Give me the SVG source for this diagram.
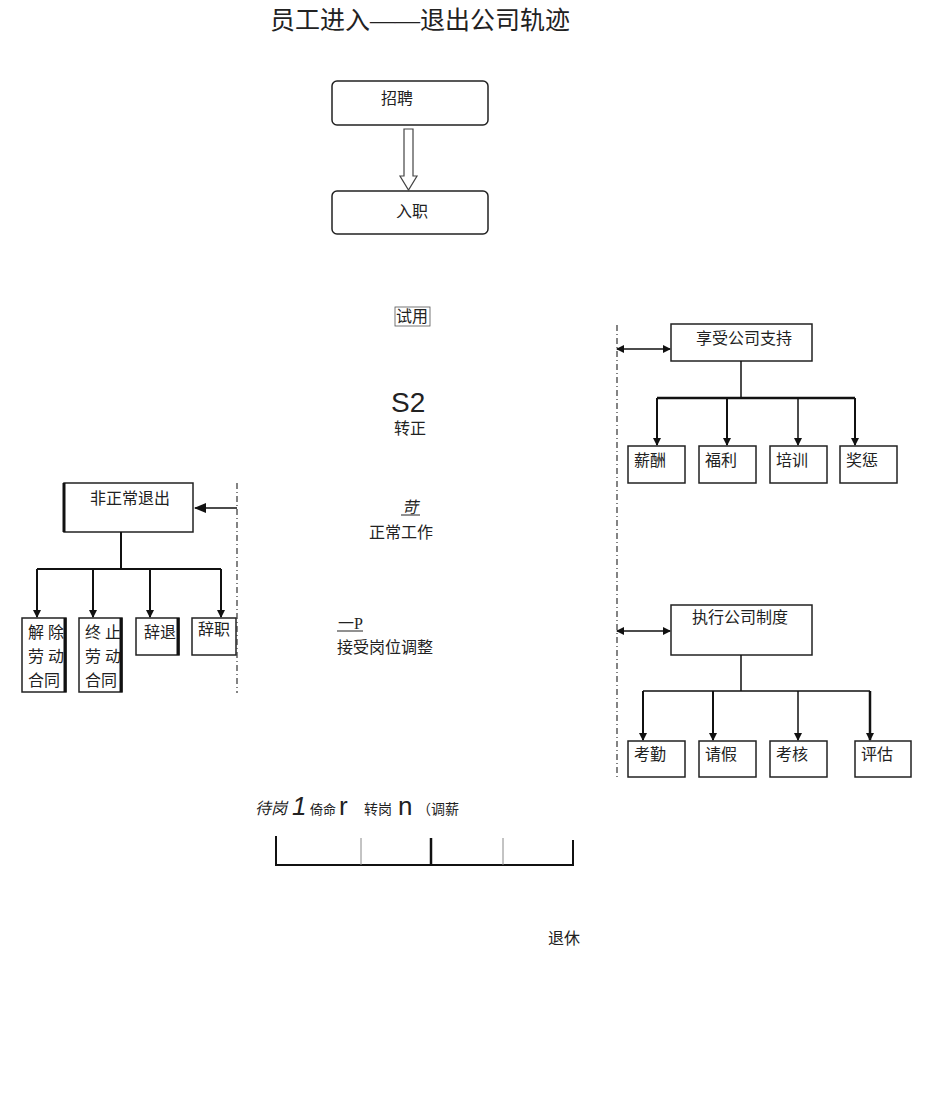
<svg xmlns="http://www.w3.org/2000/svg" width="950" height="1102" viewBox="0 0 950 1102">
<style>
text{font-family:"Liberation Serif","Noto Sans CJK SC",serif;fill:#222;font-size:16px}
.s{font-family:"Liberation Sans","Noto Sans CJK SC",sans-serif}
.box{fill:#fff;stroke:#222;stroke-width:1.5}
.ln{stroke:#111;stroke-width:2;fill:none}
.dash{stroke:#333;stroke-width:1.2;stroke-dasharray:6 3 1 3;fill:none}
</style>
<defs>
<marker id="ah" markerWidth="8" markerHeight="8" refX="7" refY="4" orient="auto-start-reverse" markerUnits="userSpaceOnUse"><path d="M0,0 L8,4 L0,8 Z" fill="#111"/></marker>
<marker id="ahl" markerWidth="12" markerHeight="10" refX="11" refY="5" orient="auto-start-reverse" markerUnits="userSpaceOnUse"><path d="M0,0 L12,5 L0,10 Z" fill="#111"/></marker>
</defs>
<text x="270" y="29" style="font-size:25px">员工进入——退出公司轨迹</text>

<g id="n-zhaopin"><rect class="box" x="332" y="81" width="156" height="44" rx="5"/><text x="381" y="104" class="s">招聘</text></g>
<g id="n-ruzhi"><rect class="box" x="332" y="191" width="156" height="43" rx="5"/><text x="396" y="217" class="s">入职</text></g>
<g id="n-shiyong"><rect x="395" y="307" width="35" height="19" fill="none" stroke="#555" stroke-width="0.8"/><text x="396" y="322">试用</text></g>
<g id="n-zhuanzheng"><text x="391" y="412" class="s" style="font-size:28px">S2</text><text x="394" y="434">转正</text></g>
<g id="n-zhengchang"><text x="402" y="513" style="font-style:italic">苛</text><line x1="401" y1="515" x2="420" y2="515" stroke="#222"/><text x="369" y="538">正常工作</text></g>
<g id="n-tiaozheng"><text x="338" y="629">一P</text><line x1="337" y1="631" x2="363" y2="631" stroke="#222"/><text x="337" y="653">接受岗位调整</text></g>

<g id="n-feizhengchang"><rect class="box" x="64" y="483" width="129" height="49"/><line x1="64" y1="483" x2="64" y2="532" stroke="#111" stroke-width="3"/><text x="90" y="504">非正常退出</text></g>
<g id="n-jiechu"><rect class="box" x="22" y="618" width="44" height="74"/><line x1="65" y1="618" x2="65" y2="692" stroke="#111" stroke-width="3"/><text x="28" y="638">解 除</text><text x="28" y="662">劳 动</text><text x="28" y="686">合同</text></g>
<g id="n-zhongzhi"><rect class="box" x="79" y="618" width="43" height="74"/><line x1="121" y1="618" x2="121" y2="692" stroke="#111" stroke-width="3"/><text x="85" y="638">终 止</text><text x="85" y="662">劳 动</text><text x="85" y="686">合同</text></g>
<g id="n-citui"><rect class="box" x="136" y="618" width="43" height="37"/><line x1="178" y1="618" x2="178" y2="655" stroke="#111" stroke-width="3"/><text x="144" y="638">辞退</text></g>
<g id="n-cizhi"><rect class="box" x="192" y="618" width="44" height="37"/><text x="198" y="635">辞职</text></g>

<g id="n-xiangshou"><rect class="box" x="671" y="324" width="141" height="37"/><text x="696" y="344">享受公司支持</text></g>
<g id="n-xinchou"><rect class="box" x="628" y="446" width="57" height="37"/><text x="634" y="466">薪酬</text></g>
<g id="n-fuli"><rect class="box" x="699" y="446" width="57" height="37"/><text x="705" y="466">福利</text></g>
<g id="n-peixun"><rect class="box" x="770" y="446" width="57" height="37"/><text x="776" y="466">培训</text></g>
<g id="n-jiangcheng"><rect class="box" x="840" y="446" width="57" height="37"/><text x="846" y="466">奖惩</text></g>

<g id="n-zhixing"><rect class="box" x="671" y="605" width="141" height="50"/><text x="692" y="623">执行公司制度</text></g>
<g id="n-kaoqin"><rect class="box" x="628" y="741" width="57" height="36"/><text x="634" y="760">考勤</text></g>
<g id="n-qingjia"><rect class="box" x="699" y="741" width="57" height="36"/><text x="705" y="760">请假</text></g>
<g id="n-kaohe"><rect class="box" x="770" y="741" width="57" height="36"/><text x="776" y="760">考核</text></g>
<g id="n-pinggu"><rect class="box" x="855" y="741" width="56" height="36"/><text x="861" y="760">评估</text></g>

<g id="n-daigang"><text x="255" y="814" style="font-style:italic">待岗</text><text x="292" y="815" class="s" style="font-size:26px;font-style:italic">1</text><text x="310" y="814" style="font-size:13px">倚命</text><text x="339" y="815" class="s" style="font-size:26px">r</text><text x="364" y="814" style="font-size:14px">转岗</text><text x="398" y="815" class="s" style="font-size:26px">n</text><text x="417" y="814" style="font-size:14px">（调薪</text></g>
<g id="n-tuixiu"><text x="548" y="944">退休</text></g>

<g id="connectors">
<path d="M404,129 H413 V176 H417 L408.5,190 L400,176 H404 Z" fill="#fff" stroke="#444" stroke-width="1.2"/>
<line class="dash" x1="237" y1="483" x2="237" y2="693"/>
<line x1="237" y1="508" x2="195" y2="508" stroke="#111" stroke-width="1.5" marker-end="url(#ahl)"/>
<path class="ln" d="M121,532 V569 M37,569 H221"/>
<line class="ln" x1="37" y1="569" x2="37" y2="617" marker-end="url(#ah)"/>
<line class="ln" x1="93" y1="569" x2="93" y2="617" marker-end="url(#ah)"/>
<line class="ln" x1="150" y1="569" x2="150" y2="617" marker-end="url(#ah)"/>
<line class="ln" x1="221" y1="569" x2="221" y2="617" marker-end="url(#ah)"/>

<line class="dash" x1="617" y1="325" x2="617" y2="778"/>
<line x1="617" y1="349" x2="670" y2="349" stroke="#111" stroke-width="1.5" marker-start="url(#ah)" marker-end="url(#ah)"/>
<path d="M741,361 V398" stroke="#111" stroke-width="1.5" fill="none"/>
<path d="M657,398 H855" stroke="#111" stroke-width="2.5" fill="none"/>
<line class="ln" x1="657" y1="398" x2="657" y2="445" marker-end="url(#ah)"/>
<line class="ln" x1="727" y1="398" x2="727" y2="445" marker-end="url(#ah)"/>
<line x1="798" y1="398" x2="798" y2="445" stroke="#111" stroke-width="1.5" marker-end="url(#ah)"/>
<line class="ln" x1="855" y1="398" x2="855" y2="445" marker-end="url(#ah)"/>

<line x1="617" y1="631" x2="670" y2="631" stroke="#111" stroke-width="1.5" marker-start="url(#ah)" marker-end="url(#ah)"/>
<path d="M741,655 V691 M643,691 H870" stroke="#111" stroke-width="1.5" fill="none"/>
<line class="ln" x1="643" y1="691" x2="643" y2="740" marker-end="url(#ah)"/>
<line class="ln" x1="713" y1="691" x2="713" y2="740" marker-end="url(#ah)"/>
<line x1="798" y1="691" x2="798" y2="740" stroke="#111" stroke-width="1.5" marker-end="url(#ah)"/>
<line x1="870" y1="691" x2="870" y2="740" stroke="#111" stroke-width="2.5" marker-end="url(#ah)"/>

<path d="M276,836 V865 H573 V840" stroke="#111" stroke-width="2" fill="none"/>
<line x1="361" y1="838" x2="361" y2="865" stroke="#888" stroke-width="1"/>
<line x1="503" y1="838" x2="503" y2="865" stroke="#888" stroke-width="1"/>
<line x1="431" y1="838" x2="431" y2="866" stroke="#111" stroke-width="2.5"/>
</g>
</svg>
